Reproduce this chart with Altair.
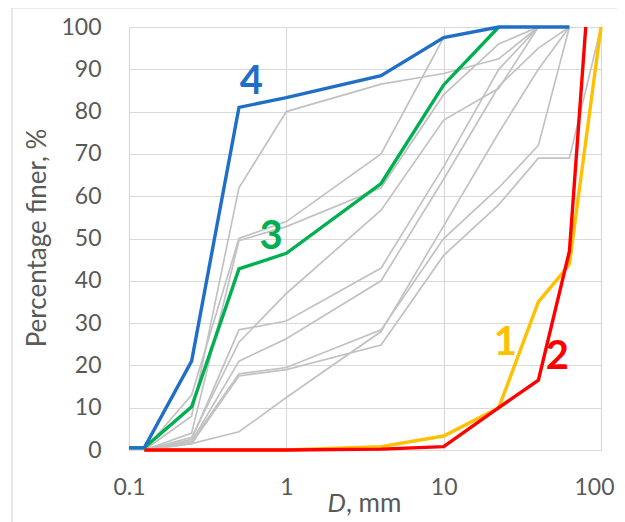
import altair as alt
import pandas as pd

# ---- data ----
blue_D = [0.1, 0.125, 0.25, 0.5, 1, 4, 10, 22.4, 40, 63]
blue_P = [0.5, 0.5, 21, 81, 83.3, 88.5, 97.5, 100, 100, 100]
green_D = [0.1, 0.125, 0.25, 0.5, 1, 4, 10, 22.4]
green_P = [0.5, 0.5, 10.2, 42.8, 46.5, 63, 86.3, 100]
yellow_D = [0.125, 0.25, 0.5, 1, 4, 10, 22.4, 40, 56, 63, 100]
yellow_P = [0, 0, 0, 0, 0.8, 3.3, 10, 35, 41.5, 44, 100]
red_D = [0.125, 0.25, 0.5, 1, 4, 10, 22.4, 40, 63, 80]
red_P = [0, 0, 0, 0, 0.2, 0.8, 10, 16.5, 47, 100]

g1_D = [0.125, 0.25, 0.5, 1, 4, 10, 22.4, 40]
g1_P = [0, 8, 62, 80, 86.5, 89, 92.5, 100]
g2_D = [0.125, 0.25, 0.5, 1, 4, 10, 22.4]
g2_P = [0, 13, 50, 54, 70, 97.5, 100]
g3_D = [0.125, 0.25, 0.5, 1, 4, 10, 22.4, 40]
g3_P = [0, 4, 49.5, 52.8, 62, 84, 96, 100]
g4_D = [0.125, 0.25, 0.5, 1, 4, 10, 22.4, 40]
g4_P = [0, 3, 25.5, 37, 56.7, 78, 85.5, 100]
g5_D = [0.125, 0.25, 0.5, 1, 4, 10, 22.4, 40]
g5_P = [0, 2.5, 28.4, 30.5, 43, 67, 90, 100]
g6_D = [0.125, 0.25, 0.5, 1, 4, 10, 22.4, 40, 63]
g6_P = [0, 2, 21, 26.3, 40, 64, 86, 95, 100]
g7_D = [0.125, 0.25, 0.5, 1, 4, 10, 22.4, 40, 63]
g7_P = [0, 2, 18, 19.5, 28.4, 50, 62, 72, 100]
g8_D = [0.125, 0.25, 0.5, 1, 4, 10, 22.4, 40, 63, 100]
g8_P = [0, 1.5, 17.5, 19, 24.8, 46, 58, 69, 69, 100]
g9_D = [0.125, 0.25, 0.5, 1, 4, 10, 22.4, 40, 63]
g9_P = [0, 1.5, 4.3, 12.4, 28, 53, 75, 90, 100]

label_text = ["4", "3", "1", "2"]
label_D = [0.6, 0.8, 24.7, 52.7]
label_P = [87, 50.4, 25.3, 22]
label_color = ["#1f6fc6", "#00b050", "#ffc000", "#ff0000"]

x_ticks = [0.1, 1, 10, 100]
y_ticks = list(range(0, 101, 10))

FONT = "Lato"
W, H = 472, 423


def frame(name, D, P):
    return pd.DataFrame({"series": name, "D": D, "P": P, "order": range(len(D))})


grays = [(g1_D, g1_P), (g2_D, g2_P), (g3_D, g3_P), (g4_D, g4_P), (g5_D, g5_P),
         (g6_D, g6_P), (g7_D, g7_P), (g8_D, g8_P), (g9_D, g9_P)]
gray_df = pd.concat([frame(f"g{i}", d, p) for i, (d, p) in enumerate(grays)])

xscale = alt.Scale(type="log", domain=[0.1, 100], nice=False)
yscale = alt.Scale(domain=[0, 100], nice=False)

xaxis = alt.Axis(values=x_ticks, format="~g", title=None, ticks=False, domain=False,
                 labelFontSize=23, labelColor="#595959", labelFont=FONT, labelPadding=26,
                 labelFlush=False, labelOverlap=False, labelBound=False,
                 labelOffset={"condition": {"test": "datum.value >= 100", "value": -7}, "value": 0},
                 gridColor="#d9d9d9", gridWidth=1.2)
yaxis = alt.Axis(values=y_ticks, title=None, ticks=False, domain=False,
                 labelFontSize=23, labelColor="#595959", labelFont=FONT, labelPadding=28,
                 labelFlush=False, labelOverlap=False, labelBound=False,
                 gridColor="#d9d9d9", gridWidth=1.2)

base_x = alt.X("D:Q", scale=xscale, axis=xaxis)
base_y = alt.Y("P:Q", scale=yscale, axis=yaxis)

gray = alt.Chart(gray_df).mark_line(color="#c2c2c2", strokeWidth=1.7).encode(
    x=base_x, y=base_y, detail="series:N", order="order:Q")


def colored(name, D, P, color):
    return alt.Chart(frame(name, D, P)).mark_line(color=color, strokeWidth=3.4).encode(
        x=alt.X("D:Q", scale=xscale), y=alt.Y("P:Q", scale=yscale), order="order:Q")


yellow = colored("1", yellow_D, yellow_P, "#ffc000")
red = colored("2", red_D, red_P, "#ff0000")
green = colored("3", green_D, green_P, "#00b050")
blue = colored("4", blue_D, blue_P, "#1f6fc6")

lab_df = pd.DataFrame({"t": label_text, "D": label_D, "P": label_P, "c": label_color})
labels = alt.Chart(lab_df).mark_text(font=FONT, fontSize=40, fontWeight="bold").encode(
    x=alt.X("D:Q", scale=xscale), y=alt.Y("P:Q", scale=yscale), text="t:N",
    color=alt.Color("c:N", scale=None))

ytitle = alt.Chart(pd.DataFrame({"t": ["Percentage finer, %"]})).mark_text(
    font=FONT, fontSize=26, color="#595959", angle=270, align="center", baseline="middle"
).encode(text="t:N", x=alt.value(-91), y=alt.value(211))

xt1 = alt.Chart(pd.DataFrame({"t": ["D"]})).mark_text(
    font=FONT, fontSize=26, color="#595959", fontStyle="italic", align="right", baseline="middle"
).encode(text="t:N", x=alt.value(217), y=alt.value(477))
xt2 = alt.Chart(pd.DataFrame({"t": [", mm"]})).mark_text(
    font=FONT, fontSize=26, color="#595959", align="left", baseline="middle"
).encode(text="t:N", x=alt.value(217), y=alt.value(477))

border_top = alt.Chart(pd.DataFrame({"a": [0]})).mark_rule(color="#d9d9d9", strokeWidth=1.2).encode(
    x=alt.value(-117), x2=alt.value(W + 16), y=alt.value(-19))
border_left = alt.Chart(pd.DataFrame({"a": [0]})).mark_rule(color="#d9d9d9", strokeWidth=1.2).encode(
    x=alt.value(-117), y=alt.value(-19), y2=alt.value(H + 72))

chart = alt.layer(gray, yellow, red, green, blue, labels, ytitle, xt1, xt2,
                  border_top, border_left).properties(
    width=W, height=H,
    autosize=alt.AutoSizeParams(type="none"),
    padding={"left": 121, "top": 19, "right": 16, "bottom": 72},
).configure_view(stroke="#d9d9d9", strokeWidth=1.2).configure(background="white")

chart.save("out.html", embed_options={"renderer": "svg", "actions": False})
